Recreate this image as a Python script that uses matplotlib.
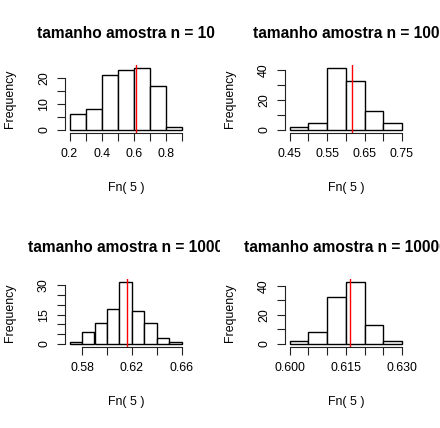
import matplotlib
matplotlib.use("Agg")
import matplotlib.pyplot as plt
import numpy as np
from matplotlib.transforms import Bbox, TransformedBbox

plt.rcParams['font.family'] = ['Liberation Sans', 'DejaVu Sans']

# sample sizes and histogram data (100 replicates each)
sizes = ["10", "100", "1000", "10000"]
breaks_10 = [0.2, 0.3, 0.4, 0.5, 0.6, 0.7, 0.8, 0.9]
counts_10 = [6, 8, 21, 23, 24, 17, 1]
breaks_100 = [0.45, 0.50, 0.55, 0.60, 0.65, 0.70, 0.75]
counts_100 = [2, 5, 42, 33, 13, 5]
breaks_1000 = [0.57, 0.58, 0.59, 0.60, 0.61, 0.62, 0.63, 0.64, 0.65, 0.66]
counts_1000 = [1, 6, 11, 18, 32, 17, 11, 3, 1]
breaks_10000 = [0.600, 0.605, 0.610, 0.615, 0.620, 0.625, 0.630]
counts_10000 = [2, 8, 32, 43, 13, 2]
true_value = 0.616

# axis ticks per panel (R pretty values)
xticks = [
    [0.2, 0.3, 0.4, 0.5, 0.6, 0.7, 0.8, 0.9],
    [0.45, 0.50, 0.55, 0.60, 0.65, 0.70, 0.75],
    [0.58, 0.60, 0.62, 0.64, 0.66],
    [0.600, 0.605, 0.610, 0.615, 0.620, 0.625, 0.630],
]
xlabels = [
    ["0.2", "", "0.4", "", "0.6", "", "0.8", ""],
    ["0.45", "", "0.55", "", "0.65", "", "0.75"],
    ["0.58", "", "0.62", "", "0.66"],
    ["0.600", "", "", "0.615", "", "", "0.630"],
]
yticks = [
    [0, 5, 10, 15, 20],
    [0, 10, 20, 30, 40],
    [0, 5, 10, 15, 20, 25, 30],
    [0, 10, 20, 30, 40],
]
ylabels = [
    ["0", "", "10", "", "20"],
    ["0", "", "20", "", "40"],
    ["0", "", "", "15", "", "", "30"],
    ["0", "", "20", "", "40"],
]

all_breaks = [breaks_10, breaks_100, breaks_1000, breaks_10000]
all_counts = [counts_10, counts_100, counts_1000, counts_10000]

W, H = 440, 428
fig = plt.figure(figsize=(W / 100, H / 100), dpi=100)
fig.patch.set_facecolor('white')

TICK_SIZE = 8.9
TITLE_SIZE = 11.2

for i in range(4):
    r, c = divmod(i, 2)
    px0 = c * 220
    py0 = r * 214
    left = (px0 + 65) / W
    bottom = 1 - (py0 + 132.5) / H
    ax = fig.add_axes([left, bottom, 121.5 / W, 67.5 / H])

    br = np.array(all_breaks[i])
    cnt = np.array(all_counts[i])
    ax.bar(br[:-1], cnt, width=np.diff(br), align='edge', color='white',
           edgecolor='black', linewidth=1.0)
    ax.axvline(true_value, color='red', linewidth=1.0)

    # R style 4% padding
    xr = br[-1] - br[0]
    ax.set_xlim(br[0] - 0.04 * xr, br[-1] + 0.04 * xr)
    ym = cnt.max()
    ax.set_ylim(-0.04 * ym, ym * 1.04)

    for s in ['top', 'right']:
        ax.spines[s].set_visible(False)
    ax.spines['left'].set_bounds(yticks[i][0], yticks[i][-1])
    ax.spines['bottom'].set_bounds(xticks[i][0], xticks[i][-1])
    for s in ['left', 'bottom']:
        ax.spines[s].set_linewidth(0.8)
        ax.spines[s].set_color('#222222')

    ax.set_xticks(xticks[i])
    ax.set_xticklabels(xlabels[i], fontsize=TICK_SIZE)
    ax.set_yticks(yticks[i])
    ax.set_yticklabels(ylabels[i], fontsize=TICK_SIZE, rotation=90, va='center')
    ax.tick_params(axis='both', length=5.5, width=0.8, color='#222222')
    ax.tick_params(axis='x', pad=6)
    ax.tick_params(axis='y', pad=5.3)

    ax.set_xlabel("Fn( 5 )", fontsize=TICK_SIZE)
    ax.xaxis.set_label_coords(0.5, (132.5 - 188.3) / 67.5)
    ax.xaxis.label.set_va('center')
    ax.set_ylabel("Frequency", fontsize=TICK_SIZE)
    ax.yaxis.set_label_coords((10 - 65) / 121.5, 0.5)
    ax.yaxis.label.set_va('center')

    # title clipped to its panel like R does
    t = fig.text((px0 + 125.75) / W, 1 - (py0 + 38.5) / H,
                 "tamanho amostra n = " + sizes[i], ha='center', va='baseline',
                 fontsize=TITLE_SIZE, fontweight='bold')
    clip = TransformedBbox(Bbox.from_bounds(c * 0.5, 0.5 - r * 0.5, 0.5, 0.5),
                           fig.transFigure)
    t.set_clip_box(clip)
    t.set_clip_on(True)

fig.savefig("out.png", dpi=100)
